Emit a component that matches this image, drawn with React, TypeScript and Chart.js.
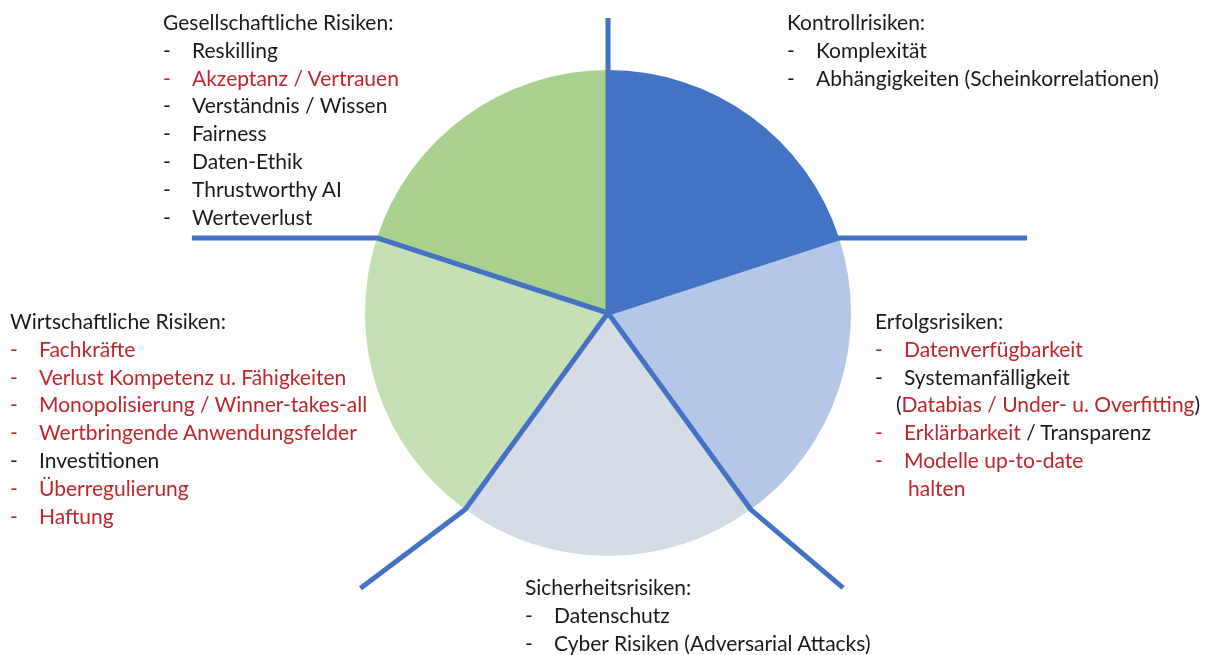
import React, { useEffect, useRef } from "react";
import { Chart, registerables } from "chart.js";

Chart.register(...registerables);

// ---- data ----
const categories = [
  "Kontrollrisiken",
  "Erfolgsrisiken",
  "Sicherheitsrisiken",
  "Wirtschaftliche Risiken",
  "Gesellschaftliche Risiken",
];
const sliceValues = [1, 1, 1, 1, 1];
const sliceColors = ["#4472C4", "#B4C7E7", "#D6DCE5", "#C5E0B4", "#A9D18E"];

type Seg = [string, boolean]; // [text, red]
type Item = { segs: Seg[]; dash: boolean; red: boolean; indent?: number };

const kontrollItems: Item[] = [
  { segs: [["Komplexität", false]], dash: true, red: false },
  { segs: [["Abhängigkeiten (Scheinkorrelationen)", false]], dash: true, red: false },
];
const erfolgItems: Item[] = [
  { segs: [["Datenverfügbarkeit", true]], dash: true, red: true },
  { segs: [["Systemanfälligkeit", false]], dash: true, red: false },
  { segs: [["(", false], ["Databias / Under- u. Overfitting", true], [")", false]], dash: false, red: false, indent: 21 },
  { segs: [["Erklärbarkeit", true], [" / Transparenz", false]], dash: true, red: true },
  { segs: [["Modelle up-to-date", true]], dash: true, red: true },
  { segs: [["halten", true]], dash: false, red: true, indent: 33 },
];
const sicherheitItems: Item[] = [
  { segs: [["Datenschutz", false]], dash: true, red: false },
  { segs: [["Cyber Risiken (Adversarial Attacks)", false]], dash: true, red: false },
];
const wirtschaftItems: Item[] = [
  { segs: [["Fachkräfte", true]], dash: true, red: true },
  { segs: [["Verlust Kompetenz u. Fähigkeiten", true]], dash: true, red: true },
  { segs: [["Monopolisierung / Winner-takes-all", true]], dash: true, red: true },
  { segs: [["Wertbringende Anwendungsfelder", true]], dash: true, red: true },
  { segs: [["Investitionen", false]], dash: true, red: false },
  { segs: [["Überregulierung", true]], dash: true, red: true },
  { segs: [["Haftung", true]], dash: true, red: true },
];
const gesellschaftItems: Item[] = [
  { segs: [["Reskilling", false]], dash: true, red: false },
  { segs: [["Akzeptanz / Vertrauen", true]], dash: true, red: true },
  { segs: [["Verständnis / Wissen", false]], dash: true, red: false },
  { segs: [["Fairness", false]], dash: true, red: false },
  { segs: [["Daten-Ethik", false]], dash: true, red: false },
  { segs: [["Thrustworthy AI", false]], dash: true, red: false },
  { segs: [["Werteverlust", false]], dash: true, red: false },
];

const RED = "#C0252B";
const BLACK = "#1A1A1A";
const LINE = "#4472C4";
const FONT = "Lato, 'Open Sans', sans-serif";
const FS = 21;
const LH = 27.8;

// leader line extensions per slice start edge (direction dx, dy, length)
const leaderExt: [number, number, number][] = [
  [0, -1, 52],
  [1, 0, 188],
  [92, 78, 121],
  [-105, 79, 131],
  [-1, 0, 185],
];

const leaderPlugin = {
  id: "leaders",
  afterDatasetsDraw(chart: any) {
    const meta = chart.getDatasetMeta(0);
    const ctx = chart.ctx;
    ctx.save();
    ctx.strokeStyle = LINE;
    ctx.lineWidth = 5;
    ctx.lineCap = "butt";
    ctx.lineJoin = "round";
    meta.data.forEach((arc: any, i: number) => {
      const { x, y, startAngle, outerRadius } = arc.getProps(["x", "y", "startAngle", "outerRadius"]);
      const ex = x + Math.cos(startAngle) * outerRadius;
      const ey = y + Math.sin(startAngle) * outerRadius;
      const [dx, dy, len] = leaderExt[i];
      const n = Math.hypot(dx, dy);
      ctx.beginPath();
      ctx.moveTo(x, y);
      ctx.lineTo(ex, ey);
      ctx.lineTo(ex + (dx / n) * len, ey + (dy / n) * len);
      ctx.stroke();
    });
    ctx.restore();
  },
};

function Block({ title, items, left, top }: { title: string; items: Item[]; left: number; top: number }) {
  return (
    <div style={{ position: "absolute", left, top, fontFamily: FONT, fontSize: FS, lineHeight: LH + "px", color: BLACK, whiteSpace: "nowrap" }}>
      <div>{title}:</div>
      {items.map((it, i) => (
        <div key={i} style={{ position: "relative", height: LH }}>
          {it.dash && <span style={{ position: "absolute", left: 0, color: it.red ? RED : BLACK }}>-</span>}
          <span style={{ position: "absolute", left: it.indent ?? 29 }}>
            {it.segs.map((s, j) => (
              <span key={j} style={{ color: s[1] ? RED : BLACK }}>{s[0]}</span>
            ))}
          </span>
        </div>
      ))}
    </div>
  );
}

export default function App() {
  const ref = useRef<HTMLCanvasElement>(null);
  useEffect(() => {
    document.body.style.margin = "0";
    const chart = new Chart(ref.current!, {
      type: "pie",
      data: {
        labels: categories,
        datasets: [{ data: sliceValues, backgroundColor: sliceColors, borderWidth: 0 }],
      },
      options: {
        responsive: false,
        animation: false,
        layout: { padding: { left: 365, right: 363, top: 70, bottom: 99 } },
        plugins: { legend: { display: false }, tooltip: { enabled: false } },
      },
      plugins: [leaderPlugin],
    });
    return () => chart.destroy();
  }, []);
  return (
    <div style={{ position: "relative", width: 1214, height: 655, background: "#fff", overflow: "hidden" }}>
      <canvas ref={ref} width={1214} height={655} style={{ position: "absolute", left: 0, top: 0 }} />
      <Block title={categories[4]} items={gesellschaftItems} left={163} top={8} />
      <Block title={categories[0]} items={kontrollItems} left={787} top={8} />
      <Block title={categories[3]} items={wirtschaftItems} left={10} top={307} />
      <Block title={categories[1]} items={erfolgItems} left={875} top={307} />
      <Block title={categories[2]} items={sicherheitItems} left={525} top={573} />
    </div>
  );
}
